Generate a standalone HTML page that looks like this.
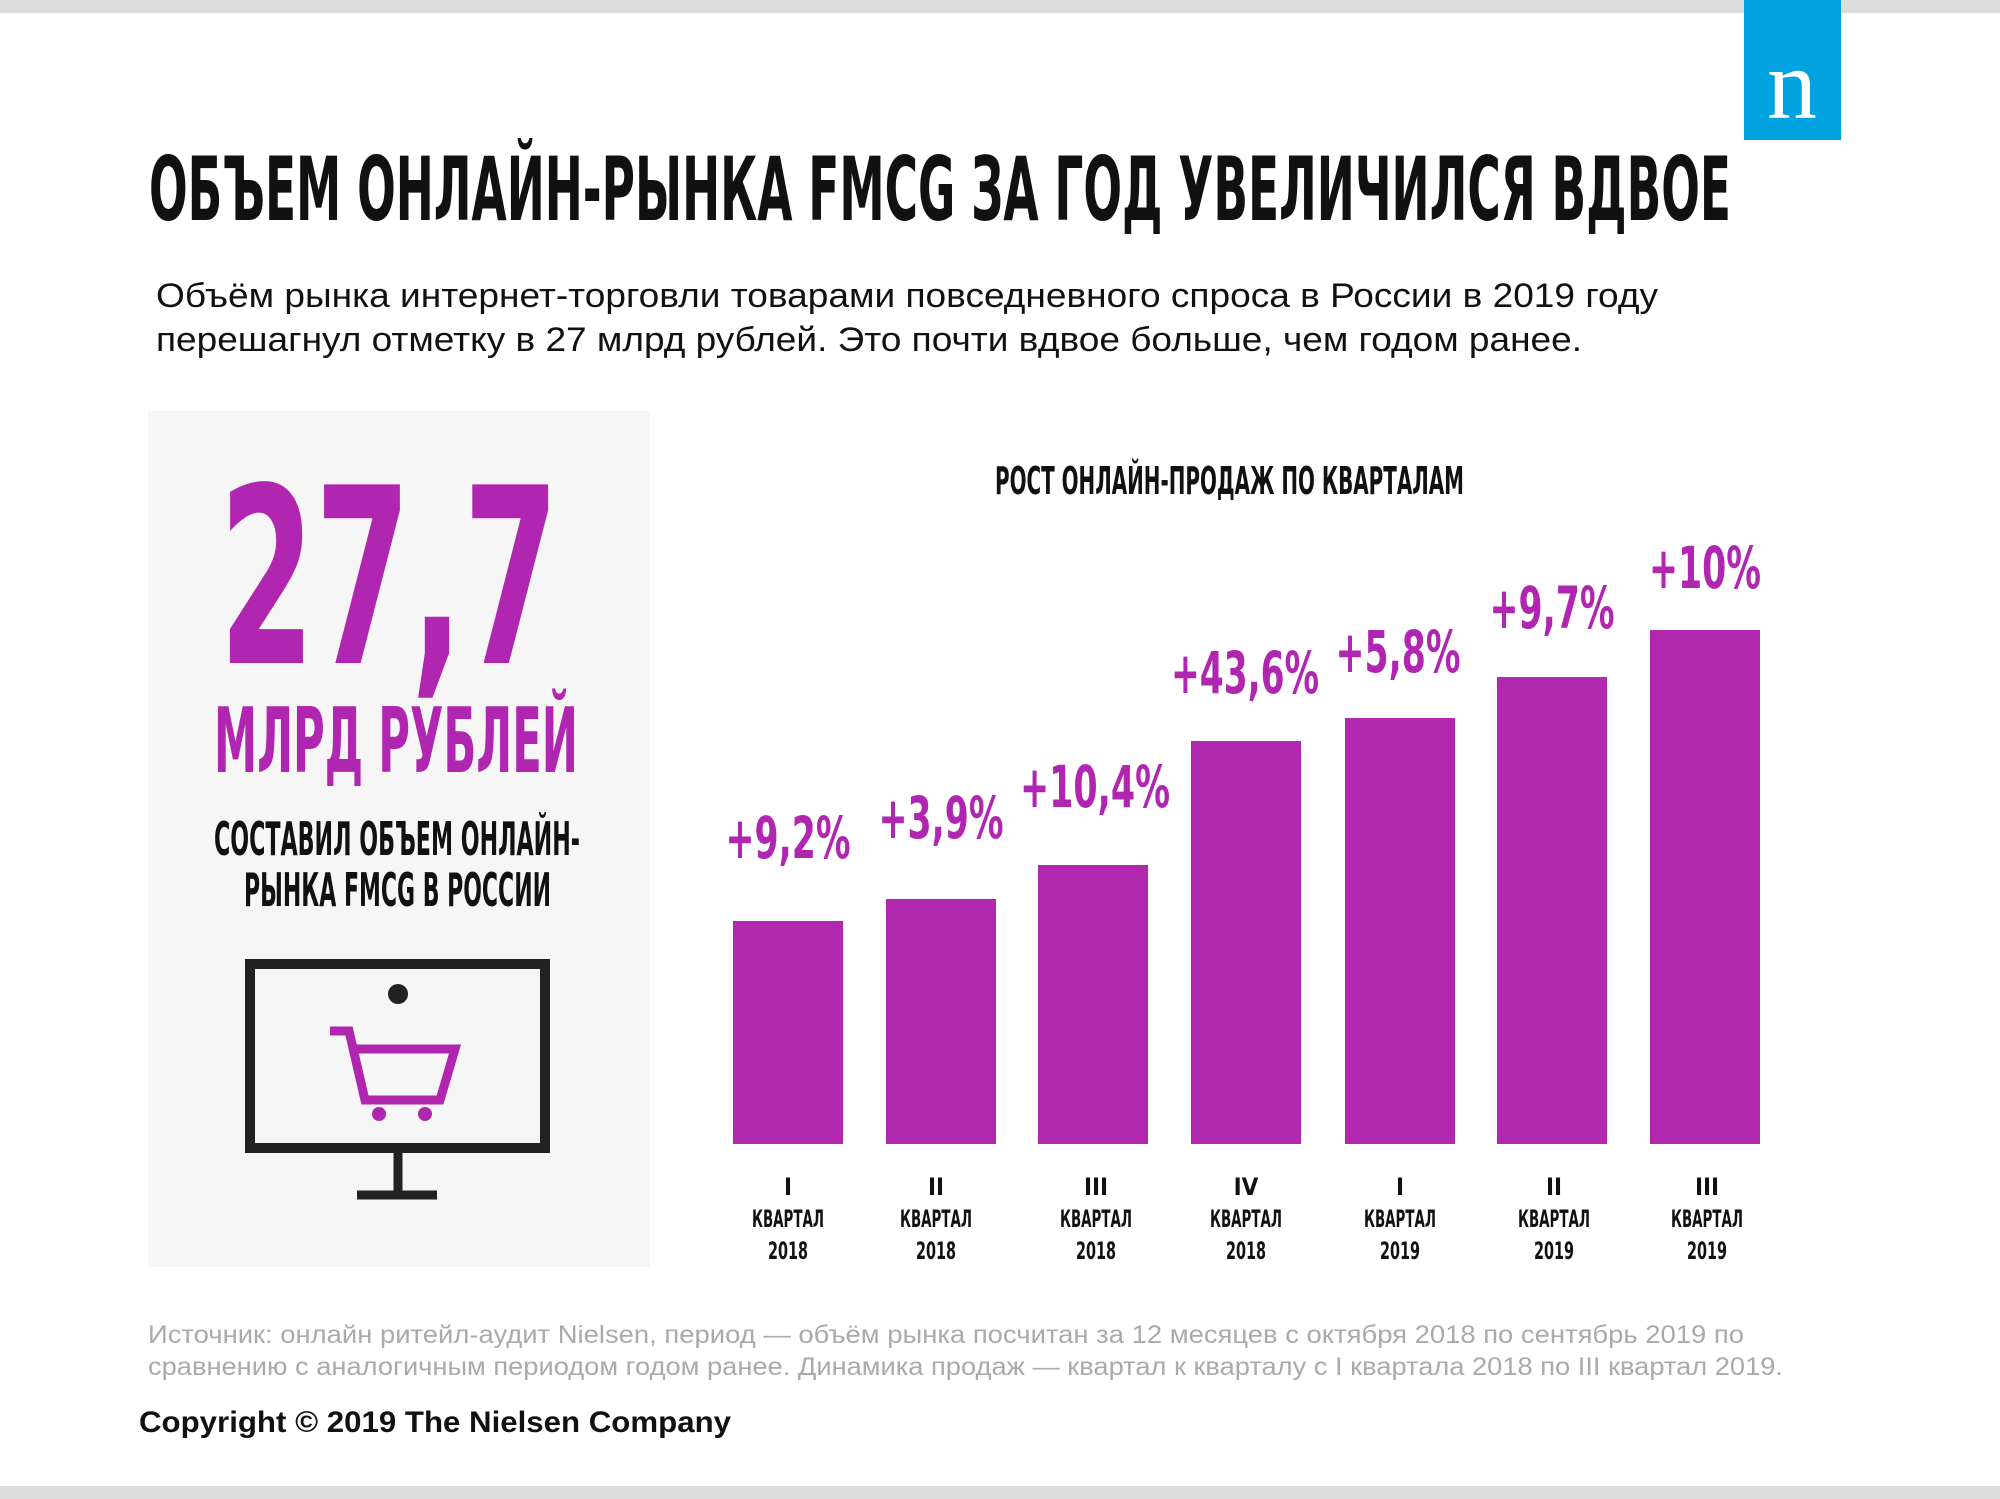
<!DOCTYPE html>
<html><head><meta charset="utf-8"><style>
html,body{margin:0;padding:0;background:#fff;}
svg{display:block;}
.c{font-family:"Liberation Sans Narrow","DejaVu Sans Condensed","Liberation Sans",sans-serif;font-weight:bold;}
.s{font-family:"Liberation Sans",sans-serif;}
</style></head><body>
<svg width="2000" height="1499" viewBox="0 0 2000 1499" xmlns="http://www.w3.org/2000/svg">
<rect x="0" y="0" width="2000" height="13" fill="#dcdcdc"/>
<rect x="0" y="1486" width="2000" height="13" fill="#dcdcdc"/>
<rect x="1744" y="0" width="97" height="140" fill="#00a3e0"/>
<text x="1792" y="118" text-anchor="middle" font-family="Liberation Serif,serif" font-size="100" fill="#fff">n</text>

<text class="c" x="149" y="220" font-size="88" fill="#111" textLength="1582" lengthAdjust="spacingAndGlyphs">ОБЪЕМ ОНЛАЙН-РЫНКА FMCG ЗА ГОД УВЕЛИЧИЛСЯ ВДВОЕ</text>
<text class="s" x="156" y="307" font-size="34" fill="#111" textLength="1502" lengthAdjust="spacingAndGlyphs">Объём рынка интернет-торговли товарами повседневного спроса в России в 2019 году</text>
<text class="s" x="156" y="351" font-size="34" fill="#111" textLength="1426" lengthAdjust="spacingAndGlyphs">перешагнул отметку в 27 млрд рублей. Это почти вдвое больше, чем годом ранее.</text>

<rect x="148" y="411" width="502" height="856" fill="#f6f6f6"/>
<text class="c" x="219" y="663" font-size="245" fill="#b026b0" textLength="340" lengthAdjust="spacingAndGlyphs">27,7</text>
<text class="c" x="214" y="772" font-size="90" fill="#b026b0" textLength="364" lengthAdjust="spacingAndGlyphs">МЛРД РУБЛЕЙ</text>
<text class="c" x="214" y="855" font-size="46" fill="#111" textLength="366" lengthAdjust="spacingAndGlyphs">СОСТАВИЛ ОБЪЕМ ОНЛАЙН-</text>
<text class="c" x="244" y="906" font-size="46" fill="#111" textLength="307" lengthAdjust="spacingAndGlyphs">РЫНКА FMCG В РОССИИ</text>
<rect x="250" y="964" width="295" height="184" fill="none" stroke="#222" stroke-width="10"/>
<circle cx="398" cy="994" r="10" fill="#222"/>
<line x1="398" y1="1152" x2="398" y2="1193" stroke="#222" stroke-width="9"/>
<line x1="357" y1="1195" x2="437" y2="1195" stroke="#222" stroke-width="9"/>
<path d="M330,1031 H349 L365,1100 H440 L455,1049 H354" fill="none" stroke="#b026b0" stroke-width="9" stroke-linejoin="miter"/>
<circle cx="379" cy="1114" r="7" fill="#b026b0"/>
<circle cx="425" cy="1114" r="7" fill="#b026b0"/>

<text class="c" x="995" y="494" font-size="38" fill="#111" textLength="469" lengthAdjust="spacingAndGlyphs">РОСТ ОНЛАЙН-ПРОДАЖ ПО КВАРТАЛАМ</text>

<g fill="#b128ae">
<rect x="733" y="921" width="110" height="223"/>
<rect x="886" y="899" width="110" height="245"/>
<rect x="1038" y="865" width="110" height="279"/>
<rect x="1191" y="741" width="110" height="403"/>
<rect x="1345" y="718" width="110" height="426"/>
<rect x="1497" y="677" width="110" height="467"/>
<rect x="1650" y="630" width="110" height="514"/>
</g>
<g class="c" font-size="58" fill="#b026b0" text-anchor="middle">
<text x="788" y="858" textLength="125" lengthAdjust="spacingAndGlyphs">+9,2%</text>
<text x="941" y="838" textLength="125" lengthAdjust="spacingAndGlyphs">+3,9%</text>
<text x="1095" y="807" textLength="150" lengthAdjust="spacingAndGlyphs">+10,4%</text>
<text x="1245" y="693" textLength="148" lengthAdjust="spacingAndGlyphs">+43,6%</text>
<text x="1398" y="672" textLength="125" lengthAdjust="spacingAndGlyphs">+5,8%</text>
<text x="1552" y="628" textLength="125" lengthAdjust="spacingAndGlyphs">+9,7%</text>
<text x="1705" y="588" textLength="112" lengthAdjust="spacingAndGlyphs">+10%</text>
</g>
<g class="c" font-size="24" fill="#111" text-anchor="middle">
<text x="788" y="1195">I</text><text x="788" y="1227" textLength="72" lengthAdjust="spacingAndGlyphs">КВАРТАЛ</text><text x="788" y="1259" textLength="40" lengthAdjust="spacingAndGlyphs">2018</text>
<text x="936" y="1195">II</text><text x="936" y="1227" textLength="72" lengthAdjust="spacingAndGlyphs">КВАРТАЛ</text><text x="936" y="1259" textLength="40" lengthAdjust="spacingAndGlyphs">2018</text>
<text x="1096" y="1195">III</text><text x="1096" y="1227" textLength="72" lengthAdjust="spacingAndGlyphs">КВАРТАЛ</text><text x="1096" y="1259" textLength="40" lengthAdjust="spacingAndGlyphs">2018</text>
<text x="1246" y="1195">IV</text><text x="1246" y="1227" textLength="72" lengthAdjust="spacingAndGlyphs">КВАРТАЛ</text><text x="1246" y="1259" textLength="40" lengthAdjust="spacingAndGlyphs">2018</text>
<text x="1400" y="1195">I</text><text x="1400" y="1227" textLength="72" lengthAdjust="spacingAndGlyphs">КВАРТАЛ</text><text x="1400" y="1259" textLength="40" lengthAdjust="spacingAndGlyphs">2019</text>
<text x="1554" y="1195">II</text><text x="1554" y="1227" textLength="72" lengthAdjust="spacingAndGlyphs">КВАРТАЛ</text><text x="1554" y="1259" textLength="40" lengthAdjust="spacingAndGlyphs">2019</text>
<text x="1707" y="1195">III</text><text x="1707" y="1227" textLength="72" lengthAdjust="spacingAndGlyphs">КВАРТАЛ</text><text x="1707" y="1259" textLength="40" lengthAdjust="spacingAndGlyphs">2019</text>
</g>

<text class="s" x="148" y="1343" font-size="25" fill="#aaa" textLength="1596" lengthAdjust="spacingAndGlyphs">Источник: онлайн ритейл-аудит Nielsen, период —  объём рынка посчитан за 12 месяцев с октября 2018 по сентябрь 2019 по</text>
<text class="s" x="148" y="1375" font-size="25" fill="#aaa" textLength="1635" lengthAdjust="spacingAndGlyphs">сравнению с аналогичным периодом годом ранее. Динамика продаж — квартал к кварталу с I квартала 2018 по III квартал 2019.</text>
<text class="s" x="139" y="1432" font-size="30" font-weight="bold" fill="#111" textLength="592" lengthAdjust="spacingAndGlyphs">Copyright © 2019 The Nielsen Company</text>
</svg>
</body></html>
